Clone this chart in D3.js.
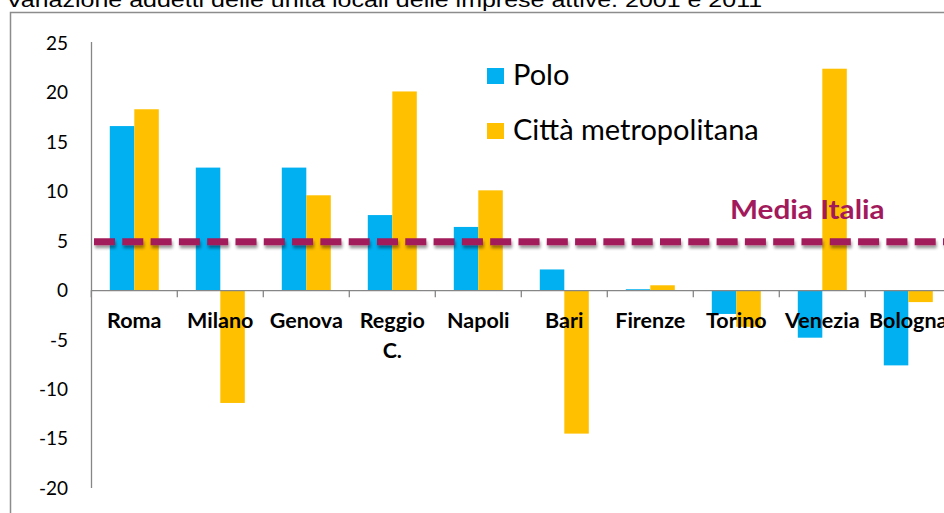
<!DOCTYPE html>
<html><head><meta charset="utf-8">
<script src="https://cdn.jsdelivr.net/npm/d3@7"></script>
<style>body{margin:0;background:#fff;}svg{display:block;}</style>
</head><body>
<svg id="c" width="944" height="513"></svg>
<script>
const categories = ["Roma","Milano","Genova","Reggio C.","Napoli","Bari","Firenze","Torino","Venezia","Bologna"];
const polo = [16.6, 12.4, 12.4, 7.6, 6.4, 2.1, 0.1, -2.4, -4.8, -7.6];
const cittaMetro = [18.3, -11.4, 9.6, 20.1, 10.1, -14.5, 0.5, -3.7, 22.4, -1.2];
const seriesNames = ["Polo","Città metropolitana"];
const yTicks = [25,20,15,10,5,0,-5,-10,-15,-20];
const mediaItalia = 4.9;
const title = "Variazione addetti delle unità locali delle imprese attive. 2001 e 2011";

const colors = ["#00B0F0","#FFC000"];
const svg = d3.select("#c");
const font = "Lato, 'Open Sans', sans-serif";

function stretchText(x, y, sx, txt){
  return svg.append("text").attr("transform",`translate(${x},${y}) scale(${sx},1)`).text(txt);
}

// title (cut off at top)
stretchText(6, 7, 1.19, title).attr("font-family","'Liberation Sans', Arial, sans-serif")
  .attr("font-size",21).attr("fill","#000");
// frame
svg.append("path").attr("d","M10.5,513 V12.5 H944").attr("fill","none").attr("stroke","#8c8c8c").attr("stroke-width",1.5);

const y = d3.scaleLinear().domain([-20,25]).range([488,43]);
const x0 = d3.scaleBand().domain(categories).range([91.3, 91.3+86*categories.length]).paddingInner(0).paddingOuter(0);
const x1 = d3.scaleBand().domain([0,1]).range([0,49]);
const groupOffset = (86-49)/2;

// bars
categories.forEach((c,i)=>{
  [polo[i], cittaMetro[i]].forEach((v,s)=>{
    svg.append("rect")
      .attr("x", x0(c)+groupOffset+x1(s))
      .attr("width", x1.bandwidth())
      .attr("y", y(Math.max(0,v)))
      .attr("height", Math.abs(y(v)-y(0)))
      .attr("fill", colors[s]);
  });
});

// y axis line
svg.append("line").attr("x1",91.5).attr("x2",91.5).attr("y1",42).attr("y2",488).attr("stroke","#868686").attr("stroke-width",1.3);
// y tick labels
svg.selectAll(".yt").data(yTicks).enter().append("text")
  .attr("x",68).attr("y",d=>y(d)).attr("dy","0.36em").attr("text-anchor","end")
  .attr("font-family",font).attr("font-size",19).attr("fill","#000").text(d=>d);

// x axis
svg.append("line").attr("x1",91).attr("x2",944).attr("y1",y(0)+0.5).attr("y2",y(0)+0.5).attr("stroke","#868686").attr("stroke-width",1.3);
d3.range(categories.length+1).forEach(i=>{
  const xx = x0.range()[0] + x0.step()*i;
  svg.append("line").attr("x1",xx).attr("x2",xx).attr("y1",y(0)).attr("y2",y(0)+7).attr("stroke","#868686").attr("stroke-width",1.3);
});
// category labels
categories.forEach(c=>{
  const cx = x0(c)+x0.bandwidth()/2;
  const parts = c === "Reggio C." ? ["Reggio","C."] : [c];
  parts.forEach((p,j)=>{
    svg.append("text").attr("x",cx).attr("y",328+j*30).attr("text-anchor","middle")
      .attr("font-family",font).attr("font-weight","bold").attr("font-size",21.5).attr("fill","#000").text(p);
  });
});

// Media Italia line with shadow
const defs = svg.append("defs");
const f = defs.append("filter").attr("id","sh").attr("filterUnits","userSpaceOnUse")
  .attr("x",0).attr("y",200).attr("width",944).attr("height",90);
f.append("feGaussianBlur").attr("in","SourceAlpha").attr("stdDeviation",1.5).attr("result","b");
f.append("feOffset").attr("in","b").attr("dx",1).attr("dy",3).attr("result","o");
f.append("feComponentTransfer").attr("in","o").attr("result","o2").append("feFuncA").attr("type","linear").attr("slope",0.4);
const m = f.append("feMerge"); m.append("feMergeNode").attr("in","o2"); m.append("feMergeNode").attr("in","SourceGraphic");
svg.append("line").attr("x1",94).attr("x2",944).attr("y1",y(mediaItalia)).attr("y2",y(mediaItalia))
  .attr("stroke","#A21A5B").attr("stroke-width",7).attr("stroke-dasharray","21,7.3").attr("filter","url(#sh)");
stretchText(730, 219, 1.1, "Media Italia").attr("font-family",font).attr("font-weight","bold")
  .attr("font-size",27).attr("fill","#A21A5B");

// legend
seriesNames.forEach((n,i)=>{
  const ly = 68 + i*55;
  svg.append("rect").attr("x",487).attr("y",ly).attr("width",17).attr("height",16).attr("fill",colors[i]);
  svg.append("text").attr("x",513).attr("y",ly+17).attr("font-family",font).attr("font-size",29).attr("fill","#000").text(n);
});
</script>
</body></html>
